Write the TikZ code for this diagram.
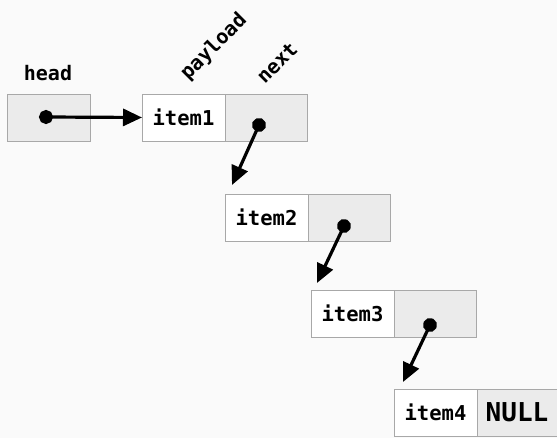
\documentclass[tikz,border=0pt]{standalone}
\usepackage{fontspec}
\setmonofont{DejaVu Sans Mono}
\usetikzlibrary{arrows.meta}
\definecolor{bg}{HTML}{FAFAFA}
\definecolor{cellgray}{HTML}{EBEBEB}
\definecolor{edge}{HTML}{A8A8A8}
\tikzset{
  cell/.style={draw=edge, line width=0.8pt, minimum height=47pt, inner sep=0pt, outer sep=0pt, anchor=north west},
  valcell/.style={cell, fill=white, minimum width=83pt, font=\ttfamily\bfseries\fontsize{20.5}{20.5}\selectfont},
  ptrcell/.style={cell, fill=cellgray, minimum width=82pt},
  lbl/.style={font=\ttfamily\bfseries\fontsize{20}{20}\selectfont, inner sep=1pt},
  ptr/.style={line width=3.2pt, {Circle[length=14pt]}-{Triangle[length=19pt,width=17pt]}, shorten <=-7pt},
}
\begin{document}
\begin{tikzpicture}[x=1pt,y=-1pt]
  \fill[bg] (0,0) rectangle (557,438);
  \useasboundingbox (0,0) rectangle (557,438);

  % head pointer
  \node[ptrcell, minimum width=83pt] (head) at (7,94) {};
  \node[lbl] (headlbl) at (48,73) {head};

  % list elements
  \node[valcell] (v1) at (142,94) {item1};
  \node[ptrcell] (p1) at (225,94) {};
  \node[valcell] (v2) at (225,194) {item2};
  \node[ptrcell] (p2) at (308,194) {};
  \node[valcell] (v3) at (311,290) {item3};
  \node[ptrcell] (p3) at (394,290) {};
  \node[valcell] (v4) at (394,389) {item4};
  \node[ptrcell, minimum width=80pt, font=\ttfamily\bfseries\fontsize{26}{26}\selectfont] (p4) at (477,389) {NULL};

  % field names
  \node[lbl, rotate=45] (plbl) at (214,47) {payload};
  \node[lbl, rotate=45] (nlbl) at (277,63) {next};

  % pointer origins and targets
  \coordinate (d0) at (46,117);
  \coordinate (d1) at (259,125);
  \coordinate (d2) at (344,226);
  \coordinate (d3) at (430,325);
  \coordinate (t1) at (232,185);
  \coordinate (t2) at (317,283);
  \coordinate (t3) at (403,382);

  \draw[ptr] (d0) -- (v1.west);
  \draw[ptr] (d1) -- (t1);
  \draw[ptr] (d2) -- (t2);
  \draw[ptr] (d3) -- (t3);
\end{tikzpicture}
\end{document}
